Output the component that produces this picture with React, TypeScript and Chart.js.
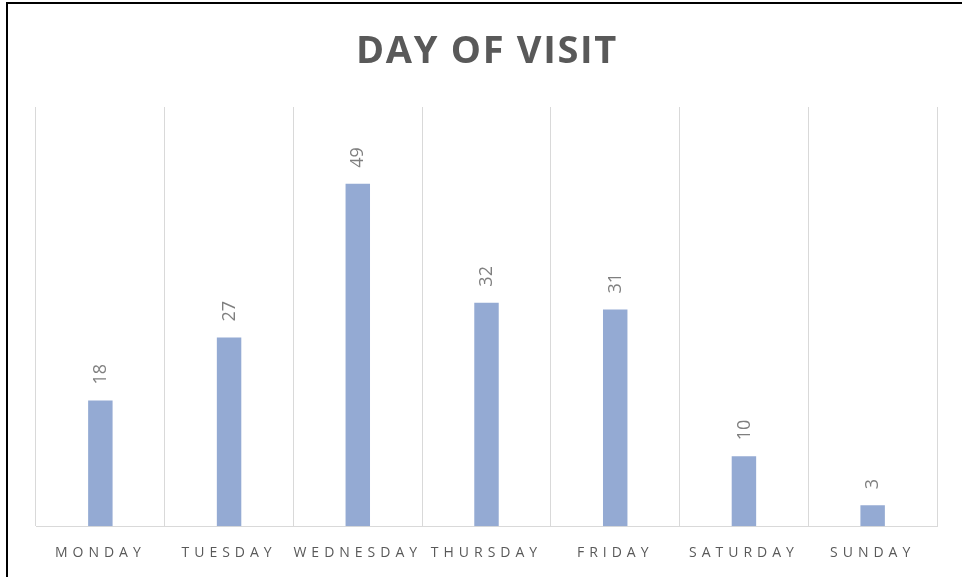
import React, { useEffect, useRef } from "react";
import { Chart, registerables } from "chart.js";

Chart.register(...registerables);

const TITLE = "DAY OF VISIT";
const DAYS = ["MONDAY", "TUESDAY", "WEDNESDAY", "THURSDAY", "FRIDAY", "SATURDAY", "SUNDAY"];
const VISITS = [18, 27, 49, 32, 31, 10, 3];
const Y_MAX = 60;

const BAR_COLOR = "#94AAD3";
const GRID_COLOR = "#D9D9D9";
const TEXT_COLOR = "#595959";
const LABEL_COLOR = "#7F7F7F";

const spacingPlugin = {
  id: "spacing",
  beforeDraw(chart: any) {
    chart.ctx.letterSpacing = "5px";
  },
};

const labelsPlugin = {
  id: "barLabels",
  afterDatasetsDraw(chart: any) {
    const ctx = chart.ctx;
    const meta = chart.getDatasetMeta(0);
    meta.data.forEach((bar: any, i: number) => {
      ctx.save();
      ctx.letterSpacing = "0px";
      ctx.font = '18px "Open Sans"';
      ctx.fillStyle = LABEL_COLOR;
      ctx.translate(bar.x + 0.5, bar.y - 16);
      ctx.rotate(-Math.PI / 2);
      ctx.textAlign = "left";
      ctx.textBaseline = "middle";
      ctx.fillText(String(VISITS[i]), 0, 0);
      ctx.restore();
    });
  },
};

const titlePlugin = {
  id: "customTitle",
  afterDraw(chart: any) {
    const ctx = chart.ctx;
    ctx.save();
    ctx.letterSpacing = "1.7px";
    ctx.font = 'bold 38px "Open Sans"';
    ctx.fillStyle = TEXT_COLOR;
    ctx.textAlign = "center";
    ctx.textBaseline = "alphabetic";
    ctx.fillText(TITLE, chart.width / 2 + 6, 63);
    ctx.restore();
  },
};

export default function App() {
  const ref = useRef<HTMLCanvasElement | null>(null);
  useEffect(() => {
    if (!ref.current) return;
    const chart = new Chart(ref.current, {
      type: "bar",
      data: {
        labels: DAYS,
        datasets: [
          {
            data: VISITS,
            backgroundColor: BAR_COLOR,
            borderWidth: 0,
            barPercentage: 0.19,
            categoryPercentage: 1,
          },
        ],
      },
      options: {
        animation: false,
        responsive: true,
        maintainAspectRatio: false,
        layout: { padding: { top: 107, left: 36, right: 25, bottom: -2 } },
        plugins: {
          legend: { display: false },
          title: { display: false },
          tooltip: { enabled: false },
        },
        scales: {
          x: {
            offset: true,
            grid: {
              offset: true,
              color: GRID_COLOR,
              lineWidth: 1,
              drawTicks: false,
            },
            border: { display: true, color: GRID_COLOR, width: 1 },
            ticks: {
              color: TEXT_COLOR,
              font: { family: '"Open Sans"', size: 14 },
              padding: 18,
              maxRotation: 0,
              autoSkip: false,
            },
          },
          y: {
            display: false,
            min: 0,
            max: Y_MAX,
          },
        },
      },
      plugins: [spacingPlugin, labelsPlugin, titlePlugin],
    });
    return () => chart.destroy();
  }, []);

  return (
    <div style={{ position: "fixed", left: 0, top: 0, width: 962, height: 577, background: "#fff" }}>
      <canvas ref={ref} />
      <div
        style={{
          position: "absolute",
          left: 6,
          top: 2,
          right: 0,
          bottom: 0,
          borderLeft: "2px solid #000",
          borderTop: "2px solid #000",
          pointerEvents: "none",
        }}
      />
    </div>
  );
}
